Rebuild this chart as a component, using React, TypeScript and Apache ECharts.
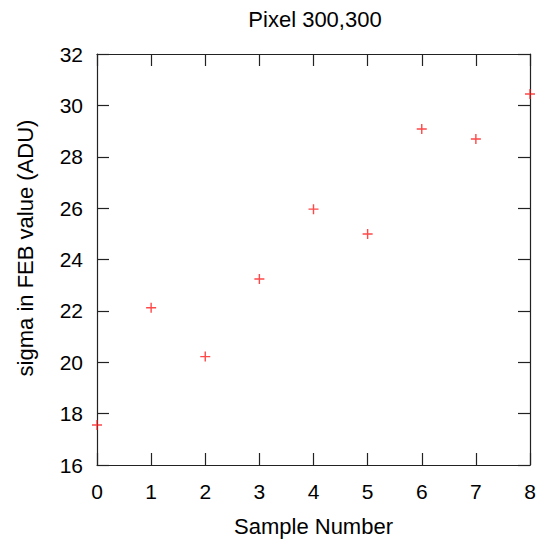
import React, { useEffect, useRef } from "react";
import * as echarts from "echarts";

const sampleNumbers = [0, 1, 2, 3, 4, 5, 6, 7, 8];
const sigmaValues = [17.56, 22.12, 20.22, 23.24, 25.96, 24.99, 29.08, 28.69, 30.44];
const titleText = "Pixel 300,300";
const xName = "Sample Number";
const yName = "sigma in FEB value (ADU)";

const FONT = "'Liberation Sans', Arial, sans-serif";
const AXIS_COLOR = "#222";

export default function App() {
  const ref = useRef<HTMLDivElement>(null);
  useEffect(() => {
    if (!ref.current) return;
    const chart = echarts.init(ref.current, null, { renderer: "svg" });
    const axisCommon = {
      axisLine: { show: true, onZero: false, lineStyle: { color: AXIS_COLOR, width: 1.2 } },
      axisTick: { show: true, inside: true, length: 12, lineStyle: { color: AXIS_COLOR, width: 1.2 } },
      splitLine: { show: false },
    };
    chart.setOption({
      animation: false,
      backgroundColor: "#fff",
      title: {
        text: titleText,
        left: 310,
        top: 3,
        textAlign: "center",
        textStyle: { fontFamily: FONT, fontSize: 22, fontWeight: "normal", color: "#000" },
      },
      grid: { left: 97, right: 9, top: 54, bottom: 79 },
      xAxis: [
        {
          type: "value",
          min: 0,
          max: 8,
          interval: 1,
          position: "bottom",
          name: xName,
          nameLocation: "middle",
          nameGap: 50,
          nameTextStyle: { fontFamily: FONT, fontSize: 22, color: "#000" },
          axisLabel: { fontFamily: FONT, fontSize: 21, color: "#000", margin: 16 },
          ...axisCommon,
        },
        {
          type: "value",
          min: 0,
          max: 8,
          interval: 1,
          position: "top",
          axisLabel: { show: false },
          ...axisCommon,
        },
      ],
      yAxis: [
        {
          type: "value",
          min: 16,
          max: 32,
          interval: 2,
          position: "left",
          axisLabel: { fontFamily: FONT, fontSize: 21, color: "#000", margin: 14 },
          ...axisCommon,
        },
        {
          type: "value",
          min: 16,
          max: 32,
          interval: 2,
          position: "right",
          axisLabel: { show: false },
          ...axisCommon,
        },
      ],
      graphic: [
        {
          type: "text",
          x: 25,
          y: 248,
          rotation: Math.PI / 2,
          style: {
            text: yName,
            fontFamily: FONT,
            fontSize: 22,
            fill: "#000",
            align: "center",
            verticalAlign: "middle",
          },
        },
      ],
      series: [
        {
          type: "scatter",
          xAxisIndex: 0,
          yAxisIndex: 0,
          clip: false,
          data: sampleNumbers.map((x, i) => [x, sigmaValues[i]]),
          symbol: "path://M0,5L10,5M5,0L5,10",
          symbolSize: 10,
          itemStyle: { color: "transparent", borderColor: "#ff1a1a", borderWidth: 1.4 },
          z: 1,
        },
      ],
    });
    return () => chart.dispose();
  }, []);
  return <div ref={ref} style={{ width: 539, height: 544, position: "absolute", left: 0, top: 0 }} />;
}
